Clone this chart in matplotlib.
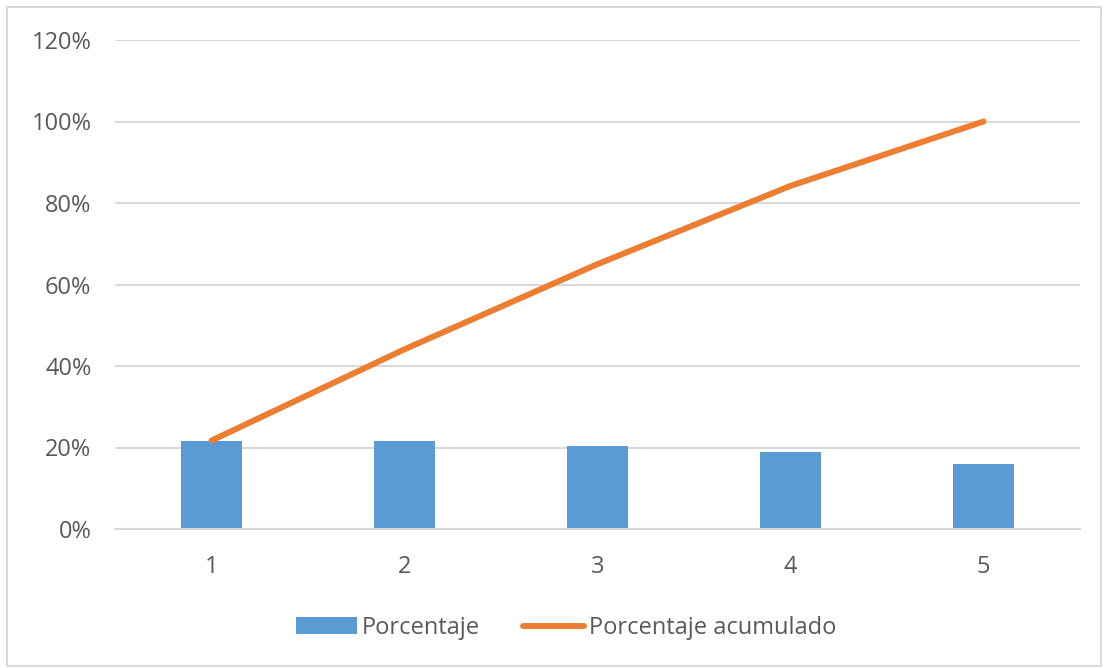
import matplotlib.pyplot as plt
from matplotlib.patches import Rectangle
from matplotlib.ticker import PercentFormatter

categories = ['1', '2', '3', '4', '5']
porcentaje = [21.7, 21.7, 20.3, 18.8, 16.0]
acumulado = [21.7, 44.1, 65.0, 84.2, 100.0]
y_ticks = [0, 20, 40, 60, 80, 100, 120]

plt.rcParams['font.family'] = ['Open Sans', 'DejaVu Sans']
text_color = '#595959'

fig = plt.figure(figsize=(11.05, 6.68), dpi=100)
ax = fig.add_axes([115 / 1105, 1 - 529 / 668, 965 / 1105, 489 / 668])

x = range(len(categories))
bars = ax.bar(x, porcentaje, width=0.315, color='#5B9BD5', label='Porcentaje', zorder=2)
line, = ax.plot(x, acumulado, color='#ED7D31', linewidth=4.3, solid_capstyle='round',
                label='Porcentaje acumulado', zorder=3)

ax.set_xlim(-0.5, 4.5)
ax.set_ylim(0, 120)
ax.set_yticks(y_ticks)
ax.yaxis.set_major_formatter(PercentFormatter(decimals=0))
ax.set_xticks(list(x))
ax.set_xticklabels(categories)

ax.grid(axis='y', color='#D9D9D9', linewidth=1.5, zorder=0)
for side in ['top', 'right', 'left']:
    ax.spines[side].set_visible(False)
ax.spines['bottom'].set_color('#D9D9D9')
ax.spines['bottom'].set_linewidth(1.5)
ax.tick_params(axis='both', length=0, labelsize=17, labelcolor=text_color)
ax.tick_params(axis='y', pad=17)
ax.tick_params(axis='x', pad=19)

leg = fig.legend([bars, line], ['Porcentaje', 'Porcentaje acumulado'],
                 loc='center', bbox_to_anchor=(566 / 1105, 1 - 628 / 668), ncol=2,
                 frameon=False, fontsize=17, handlelength=2.6, handletextpad=0.2,
                 columnspacing=1.8)
for t in leg.get_texts():
    t.set_color(text_color)

fig.patches.append(Rectangle((7 / 1105, 2 / 668), 1094 / 1105, 659 / 668,
                             transform=fig.transFigure, fill=False,
                             edgecolor='#D9D9D9', linewidth=1.5))

fig.savefig('out.png', dpi=100, facecolor='white')
